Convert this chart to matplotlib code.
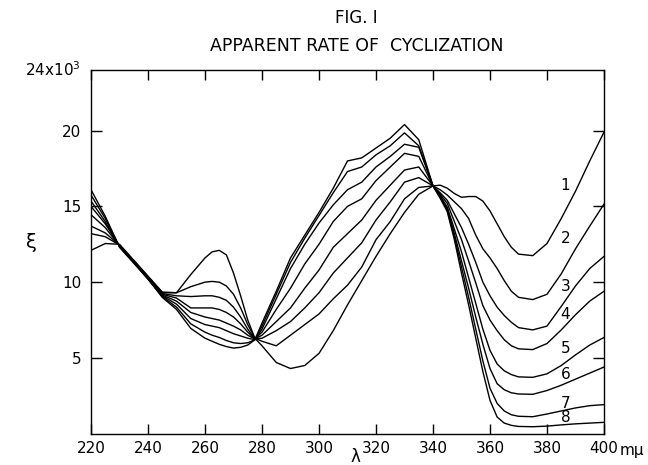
import matplotlib
matplotlib.use("Agg")
import matplotlib.pyplot as plt

# wavelength grid (m mu)
wl = [220, 225, 230, 235, 240, 245, 250, 255, 260, 262.5, 265, 267.5, 270, 272.5,
      275, 277.5,
      280, 285, 290, 295, 300, 305, 310, 315, 320, 325, 330, 335, 340,
      342.5, 345, 347.5, 350, 352.5, 355, 357.5, 360, 362.5, 365, 367.5, 370,
      375, 380, 385, 390, 395, 400]

# xi values (x 10^3), curves 1..8
c1 = [12.1, 12.55, 12.5, 11.45, 10.4, 9.35, 9.3, 10.5, 11.6, 12.0, 12.1, 11.8, 10.6, 9.1,
      7.5, 6.3,
      5.8, 4.7, 4.3, 4.5, 5.3, 6.8, 8.5, 10.1, 11.7, 13.2, 14.6, 15.8, 16.35,
      16.4, 16.2, 15.85, 15.6, 15.65, 15.65, 15.35, 14.7, 13.85, 13.0, 12.3, 11.85,
      11.75, 12.55, 14.2, 16.0, 18.0, 19.9]
c2 = [13.2, 13.0, 12.45, 11.4, 10.35, 9.3, 9.3, 9.7, 10.0, 10.05, 10.0, 9.75, 9.2, 8.3,
      7.2, 6.3,
      6.1, 5.8, 6.5, 7.2, 7.9, 8.9, 9.8, 11.0, 12.8, 14.0, 15.5, 16.25, 16.35,
      16.1, 15.75, 15.3, 14.85, 14.2, 13.1, 12.2, 11.6, 10.9, 10.1, 9.4, 9.0,
      8.85, 9.2, 10.55, 12.2, 13.7, 15.15]
c3 = [13.7, 13.25, 12.45, 11.4, 10.35, 9.25, 9.1, 9.05, 9.1, 9.1, 9.0, 8.8, 8.35, 7.7,
      6.9, 6.25,
      6.3, 6.8, 7.4, 8.3, 9.3, 10.6, 11.6, 12.6, 14.1, 15.3, 16.6, 16.9, 16.35,
      15.9, 15.4, 14.5, 13.6, 12.5, 11.3, 10.0, 9.1, 8.35, 7.8, 7.35, 7.0,
      6.85, 7.1, 8.4, 9.75, 10.9, 11.7]
c4 = [14.45, 13.6, 12.4, 11.35, 10.3, 9.2, 8.95, 8.3, 8.3, 8.3, 8.2, 8.0, 7.7, 7.25,
      6.7, 6.25,
      6.5, 7.4, 8.3, 9.6, 10.8, 12.3, 13.2, 14.1, 15.4, 16.4, 17.4, 17.6, 16.35,
      15.8, 15.2, 14.0, 12.8, 11.4, 9.95, 8.45, 7.5, 6.8, 6.2, 5.8, 5.6,
      5.55, 5.95, 6.85, 7.85, 8.75, 9.4]
c5 = [15.0, 13.85, 12.4, 11.35, 10.3, 9.15, 8.75, 8.0, 7.7, 7.6, 7.5, 7.3, 7.1, 6.85,
      6.5, 6.25,
      6.7, 8.2, 9.6, 11.2, 12.5, 14.0, 15.0, 15.5, 16.7, 17.6, 18.5, 18.3, 16.35,
      15.7, 14.95, 13.5, 12.0, 10.3, 8.6, 6.9, 5.5, 4.6, 4.15, 3.9, 3.75,
      3.72, 3.95, 4.5, 5.2, 5.85, 6.35]
c6 = [15.35, 14.0, 12.35, 11.3, 10.25, 9.1, 8.55, 7.6, 7.2, 7.1, 7.0, 6.8, 6.6, 6.45,
      6.3, 6.2,
      6.9, 8.9, 10.9, 12.5, 13.9, 15.1, 16.1, 16.6, 17.6, 18.3, 19.1, 18.9, 16.35,
      15.65, 14.85, 13.2, 11.4, 9.6, 7.7, 5.9, 4.3, 3.3, 2.9, 2.7, 2.62,
      2.6, 2.85, 3.2, 3.6, 4.0, 4.4]
c7 = [15.75, 14.2, 12.35, 11.3, 10.2, 9.05, 8.35, 7.25, 6.7, 6.5, 6.35, 6.15, 6.0, 5.95,
      6.0, 6.2,
      7.1, 9.2, 11.3, 12.9, 14.4, 15.9, 17.3, 17.6, 18.4, 19.0, 19.85, 19.0, 16.35,
      15.6, 14.75, 13.0, 11.0, 9.0, 6.9, 4.8, 3.0, 2.0, 1.5, 1.25, 1.15,
      1.12, 1.3, 1.5, 1.7, 1.85, 1.92]
c8 = [16.1, 14.35, 12.3, 11.25, 10.2, 9.0, 8.2, 6.95, 6.3, 6.1, 5.9, 5.75, 5.65, 5.7,
      5.85, 6.2,
      7.3, 9.4, 11.6, 13.1, 14.6, 16.2, 18.0, 18.2, 18.85, 19.5, 20.4, 19.4, 16.35,
      15.55, 14.65, 12.8, 10.6, 8.5, 6.3, 4.1, 2.2, 1.1, 0.7, 0.55, 0.48,
      0.46, 0.5, 0.58, 0.65, 0.7, 0.75]

curves = [c1, c2, c3, c4, c5, c6, c7, c8]
curve_labels = ["1", "2", "3", "4", "5", "6", "7", "8"]
label_y = [16.4, 12.9, 9.7, 7.85, 5.6, 3.9, 2.0, 1.05]

xticks = [220, 240, 260, 280, 300, 320, 340, 360, 380, 400]
yticks = [5, 10, 15, 20]

fig = plt.figure(figsize=(6.48, 4.65), dpi=100)
ax = fig.add_axes([91/648, (465-433.7)/465, (604-91)/648, (433.7-70)/465])

for c in curves:
    ax.plot(wl, c, color="black", lw=1.0)

for lab, yy in zip(curve_labels, label_y):
    ax.text(386.5, yy, lab, fontsize=11, ha="center", va="center")

ax.set_xlim(220, 400)
ax.set_ylim(0, 24)
ax.set_xticks(xticks)
ax.set_xticklabels([str(v) for v in xticks], fontsize=11)
ax.set_yticks(yticks)
ax.set_yticklabels([str(v) for v in yticks], fontsize=11)
ax.tick_params(axis="x", direction="in", top=True, length=7, width=1, pad=5)
ax.tick_params(axis="y", direction="in", right=True, length=8, width=1, pad=7)
for s in ax.spines.values():
    s.set_linewidth(1.0)

ax.text(-0.02, 1.0, "24x10$^{3}$", transform=ax.transAxes, fontsize=11,
        ha="right", va="center")
ax.annotate("m\u03bc", xy=(1.0, 0), xycoords="axes fraction", xytext=(11, -12),
            textcoords="offset points", fontsize=11, ha="left", va="center")

fig.text(0.548, 0.018, "\u03bb", fontsize=12, ha="center", va="center")
ax.set_ylabel("\u03be", fontsize=14, rotation=0, labelpad=22)

fig.text(0.55, 0.961, "FIG. I", fontsize=12, ha="center", va="center")
fig.text(0.55, 0.901, "APPARENT RATE OF  CYCLIZATION", fontsize=12.5,
         ha="center", va="center")

fig.savefig("out.png", dpi=100)
